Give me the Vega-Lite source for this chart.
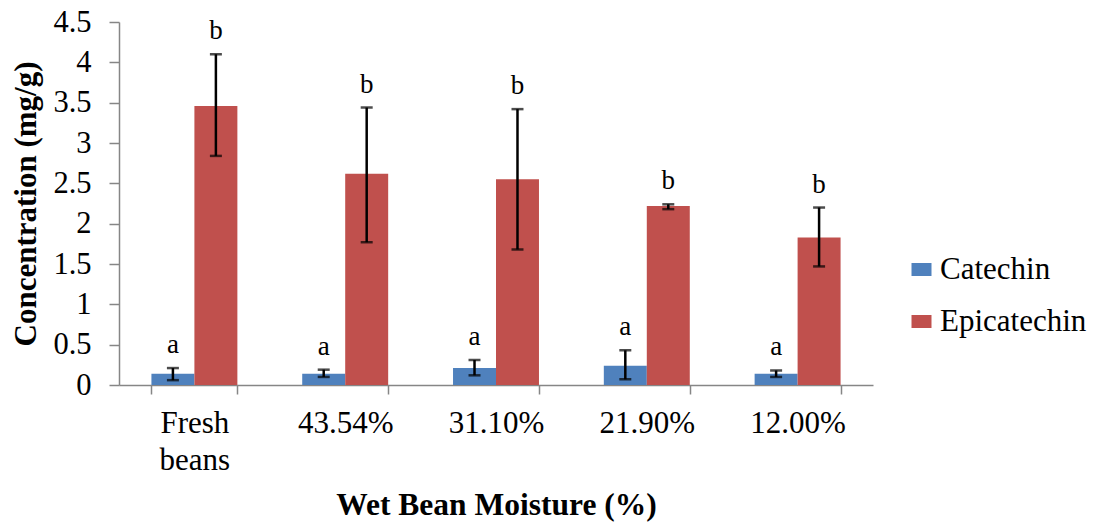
{
  "$schema": "https://vega.github.io/schema/vega-lite/v6.json",
  "width": 754,
  "height": 363,
  "autosize": {"type": "none"},
  "padding": {"left": 119, "top": 22, "right": 229, "bottom": 138},
  "background": "white",
  "config": {
    "view": {"stroke": null},
    "font": "'Liberation Serif', serif",
    "axis": {"labelFont": "'Liberation Serif', serif", "titleFont": "'Liberation Serif', serif"},
    "legend": {"labelFont": "'Liberation Serif', serif"},
    "text": {"font": "'Liberation Serif', serif"}
  },
  "data": {
    "values": [
      {"group": "Fresh beans", "compound": "Catechin", "value": 0.14, "lo": 0.06, "hi": 0.21, "letter": "a"},
      {"group": "Fresh beans", "compound": "Epicatechin", "value": 3.46, "lo": 2.84, "hi": 4.10, "letter": "b"},
      {"group": "43.54%", "compound": "Catechin", "value": 0.14, "lo": 0.10, "hi": 0.19, "letter": "a"},
      {"group": "43.54%", "compound": "Epicatechin", "value": 2.62, "lo": 1.77, "hi": 3.44, "letter": "b"},
      {"group": "31.10%", "compound": "Catechin", "value": 0.21, "lo": 0.12, "hi": 0.31, "letter": "a"},
      {"group": "31.10%", "compound": "Epicatechin", "value": 2.55, "lo": 1.68, "hi": 3.42, "letter": "b"},
      {"group": "21.90%", "compound": "Catechin", "value": 0.24, "lo": 0.07, "hi": 0.43, "letter": "a"},
      {"group": "21.90%", "compound": "Epicatechin", "value": 2.22, "lo": 2.18, "hi": 2.24, "letter": "b"},
      {"group": "12.00%", "compound": "Catechin", "value": 0.14, "lo": 0.10, "hi": 0.18, "letter": "a"},
      {"group": "12.00%", "compound": "Epicatechin", "value": 1.83, "lo": 1.47, "hi": 2.20, "letter": "b"}
    ]
  },
  "encoding": {
    "x": {
      "field": "group",
      "type": "nominal",
      "sort": ["Fresh beans", "43.54%", "31.10%", "21.90%", "12.00%"],
      "scale": {"paddingInner": 0.43, "paddingOuter": 0.215},
      "axis": {
        "title": "Wet Bean Moisture (%)",
        "titleFontSize": 31.5,
        "titleFontWeight": "bold",
        "titleColor": "black",
        "titlePadding": 14,
        "labelFontSize": 31,
        "labelColor": "black",
        "labelAngle": 0,
        "labelPadding": 14,
        "labelLineHeight": 37,
        "labelExpr": "datum.label == 'Fresh beans' ? ['Fresh', 'beans'] : datum.label",
        "tickBand": "extent",
        "tickSize": 9,
        "tickColor": "#868686",
        "tickWidth": 1.5,
        "domainColor": "#868686",
        "domainWidth": 1.5,
        "grid": false
      }
    },
    "xOffset": {
      "field": "compound",
      "type": "nominal",
      "scale": {"paddingInner": 0, "paddingOuter": 0}
    }
  },
  "layer": [
    {
      "mark": {"type": "bar"},
      "encoding": {
        "y": {
          "field": "value",
          "type": "quantitative",
          "scale": {"domain": [0, 4.5], "nice": false},
          "axis": {
            "title": "Concentration  (mg/g)",
            "titleFontSize": 31,
            "titleFontWeight": "bold",
            "titleColor": "black",
            "titlePadding": 10,
            "values": [0, 0.5, 1, 1.5, 2, 2.5, 3, 3.5, 4, 4.5],
            "format": "~g",
            "labelFontSize": 30.5,
            "labelColor": "black",
            "labelPadding": 18,
            "tickSize": 10,
            "tickColor": "#868686",
            "tickWidth": 1.5,
            "domainColor": "#868686",
            "domainWidth": 1.5,
            "grid": false
          }
        },
        "color": {
          "field": "compound",
          "type": "nominal",
          "scale": {"domain": ["Catechin", "Epicatechin"], "range": ["#4F81BD", "#C0504D"]},
          "legend": {
            "title": null,
            "orient": "none",
            "legendX": 787,
            "legendY": 232,
            "symbolType": "M-1,-0.65L1,-0.65L1,0.65L-1,0.65Z",
            "symbolSize": 400,
            "symbolStrokeWidth": 0,
            "labelFontSize": 31,
            "labelColor": "black",
            "labelOffset": 3,
            "rowPadding": 20
          }
        }
      }
    },
    {
      "mark": {"type": "rule", "color": "black", "strokeWidth": 2.5},
      "encoding": {
        "y": {"field": "lo", "type": "quantitative"},
        "y2": {"field": "hi"}
      }
    },
    {
      "mark": {"type": "tick", "color": "black", "thickness": 2.5, "size": 12},
      "encoding": {
        "y": {"field": "lo", "type": "quantitative"}
      }
    },
    {
      "mark": {"type": "tick", "color": "black", "thickness": 2.5, "size": 12},
      "encoding": {
        "y": {"field": "hi", "type": "quantitative"}
      }
    },
    {
      "mark": {"type": "text", "fontSize": 27, "color": "black", "baseline": "alphabetic", "dy": -15},
      "encoding": {
        "y": {"field": "hi", "type": "quantitative"},
        "text": {"field": "letter"}
      }
    }
  ]
}
